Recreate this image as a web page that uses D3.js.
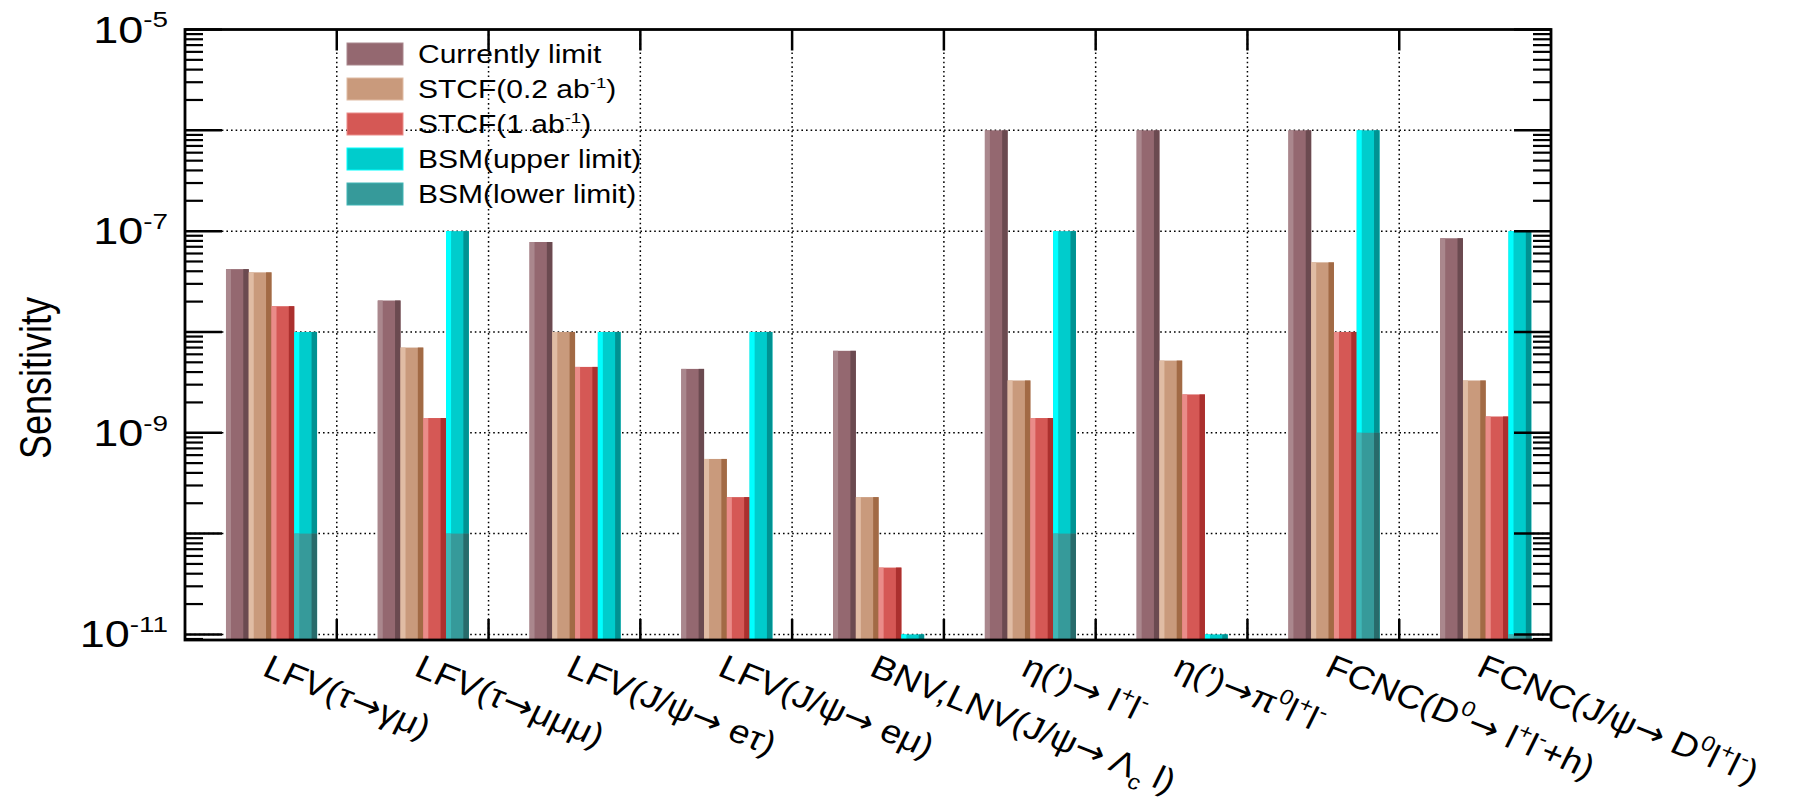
<!DOCTYPE html>
<html><head><meta charset="utf-8">
<script src="https://cdn.jsdelivr.net/npm/d3@7/dist/d3.min.js"></script>
<style>body{margin:0;background:#fff}svg{display:block}text{white-space:pre}</style>
</head><body>
<svg id="chart" width="1801" height="803"></svg>
<script>
// ---------- data ----------
const categories = [
  "LFV(τ→γμ)",
  "LFV(τ→μμμ)",
  "LFV(J/ψ→ eτ)",
  "LFV(J/ψ→ eμ)",
  "BNV,LNV(J/ψ→ Λ_{c} l)",
  "η(')→ l^{+}l^{-}",
  "η(')→π^{0}l^{+}l^{-}",
  "FCNC(D^{0}→ l^{+}l^{-}+h)",
  "FCNC(J/ψ→ D^{0}l^{+}l^{-})"
];
const currentLimit = [4.2e-8, 2.05e-8, 7.8e-8, 4.3e-9, 6.5e-9, 1e-6, 1e-6, 1e-6, 8.5e-8];
const stcf02       = [3.9e-8, 7.0e-9, 1.0e-8, 5.5e-10, 2.3e-10, 3.3e-9, 5.2e-9, 4.9e-8, 3.3e-9];
const stcf1        = [1.8e-8, 1.4e-9, 4.5e-9, 2.3e-10, 4.6e-11, 1.4e-9, 2.4e-9, 1.0e-8, 1.45e-9];
const bsmUpper     = [1e-8, 1e-7, 1e-8, 1e-8, 1e-11, 1e-7, 1e-11, 1e-6, 1e-7];
const bsmLower     = [1e-10, 1e-10, null, null, null, 1e-10, null, 1e-9, 1e-11];
const seriesNames  = ["Currently limit", "STCF(0.2 ab^{-1})", "STCF(1 ab^{-1})", "BSM(upper limit)", "BSM(lower limit)"];
const yTickValues  = [1e-5, 1e-7, 1e-9, 1e-11];
const yTickLabels  = ["10^{-5}", "10^{-7}", "10^{-9}", "10^{-11}"];
const yTitle = "Sensitivity";

// ---------- style ----------
const palette = [
  {main:"#946870", light:"#aa878d", dark:"#6b4a50"},
  {main:"#c99a7c", light:"#e0bca4", dark:"#a26a45"},
  {main:"#d55855", light:"#ea8c89", dark:"#ab302e"},
  {main:"#00cccc", light:"#00ffff", dark:"#009292"},
  {main:"#369a9a", light:"#3fb6b6", dark:"#286b6b"}
];
const FONT = "'Liberation Sans', Arial, Helvetica, sans-serif";
const SX = 1.25;           // horizontal glyph stretch seen in the reference
const X0 = 185, X1 = 1551, YT = 29.5, YB = 640;

const svg = d3.select("#chart");
svg.append("rect").attr("width",1801).attr("height",803).attr("fill","#fff");

const x = d3.scaleLinear().domain([0, categories.length]).range([X0, X1]);
const y = d3.scaleLog().domain([8.8e-12, 1e-5]).range([YB, YT]);

function rich(sel, str, fs, sc) {
  const parts = str.split(/(\^\{[^}]*\}|_\{[^}]*\}|→)/).filter(s => s.length);
  let off = 0;
  parts.forEach(p => {
    let t, target, size, fam = null;
    if (p.startsWith("^{")) { t = p.slice(2,-1); target = -0.42*fs; size = sc*fs; }
    else if (p.startsWith("_{")) { t = p.slice(2,-1); target = 0.28*fs; size = sc*fs; }
    else if (p === "→") { t = p; target = 0; size = fs; fam = "'DejaVu Sans', sans-serif"; }
    else { t = p; target = 0; size = fs; }
    const ts = sel.append("tspan").attr("dy", target - off).attr("font-size", size).text(t);
    if (fam) ts.attr("font-family", fam);
    off = target;
  });
}

// ---------- grid ----------
const grid = svg.append("g").attr("stroke","#000").attr("stroke-width",1.5).attr("stroke-dasharray","1.6,3");
grid.selectAll("line.h").data(d3.range(-11,-5).map(e => Math.pow(10,e))).join("line")
  .attr("x1",X0).attr("x2",X1).attr("y1",d=>y(d)).attr("y2",d=>y(d));
grid.selectAll("line.v").data(d3.range(1,categories.length)).join("line").attr("class","v")
  .attr("x1",d=>x(d)).attr("x2",d=>x(d)).attr("y1",YT).attr("y2",YB);

// ---------- bars ----------
const OFF = 0.27, BW = 0.15;
const seriesVals = [currentLimit, stcf02, stcf1, bsmUpper, bsmLower];
const slots = [0,1,2,3,3];
const recs = [];
seriesVals.forEach((vals, s) => vals.forEach((v, i) => { if (v != null) recs.push({i, s, v}); }));
const bw = x(BW) - x(0);
const bars = svg.append("g").selectAll("g").data(recs).join("g")
  .attr("transform", d => `translate(${x(d.i + OFF + slots[d.s]*BW)},0)`);
bars.append("rect").attr("x",0).attr("width",bw).attr("y",d=>y(d.v)).attr("height",d=>YB-y(d.v))
  .attr("fill",d=>palette[d.s].main);
bars.append("rect").attr("x",0).attr("width",bw*0.22).attr("y",d=>y(d.v)).attr("height",d=>YB-y(d.v))
  .attr("fill",d=>palette[d.s].light);
bars.append("rect").attr("x",bw*0.76).attr("width",bw*0.24).attr("y",d=>y(d.v)).attr("height",d=>YB-y(d.v))
  .attr("fill",d=>palette[d.s].dark);

// ---------- axes / frame ----------
const ax = svg.append("g").attr("stroke","#000").attr("fill","none");
const majors = d3.range(-11,-4).map(e=>Math.pow(10,e));
const minors = [];
d3.range(-12,-5).forEach(e => d3.range(2,10).forEach(m => { const v = m*Math.pow(10,e); if (v>=8.8e-12 && v<1e-5) minors.push(v); }));
ax.selectAll("line.lmaj").data(majors).join("line").attr("class","lmaj").attr("stroke-width",2.5)
  .attr("x1",X0).attr("x2",X0+37).attr("y1",d=>y(d)).attr("y2",d=>y(d));
ax.selectAll("line.lmin").data(minors).join("line").attr("class","lmin").attr("stroke-width",2.2)
  .attr("x1",X0).attr("x2",X0+18).attr("y1",d=>y(d)).attr("y2",d=>y(d));
ax.selectAll("line.rmaj").data(majors).join("line").attr("class","rmaj").attr("stroke-width",2.5)
  .attr("x1",X1).attr("x2",X1-37).attr("y1",d=>y(d)).attr("y2",d=>y(d));
ax.selectAll("line.rmin").data(minors).join("line").attr("class","rmin").attr("stroke-width",2.2)
  .attr("x1",X1).attr("x2",X1-18).attr("y1",d=>y(d)).attr("y2",d=>y(d));
const bounds = d3.range(1,categories.length);
ax.selectAll("line.bt").data(bounds).join("line").attr("class","bt").attr("stroke-width",2.5)
  .attr("x1",d=>x(d)).attr("x2",d=>x(d)).attr("y1",YB).attr("y2",YB-21);
ax.selectAll("line.tt").data(bounds).join("line").attr("class","tt").attr("stroke-width",2.5)
  .attr("x1",d=>x(d)).attr("x2",d=>x(d)).attr("y1",YT).attr("y2",YT+21);
ax.append("rect").attr("x",X0).attr("y",YT).attr("width",X1-X0).attr("height",YB-YT).attr("stroke-width",2.8);

// ---------- y tick labels ----------
svg.selectAll("g.ytl").data(yTickValues).join("g").attr("class","ytl")
  .attr("transform", d => `translate(168,${y(d)+13}) scale(${SX},1)`)
  .append("text").attr("text-anchor","end").attr("font-family",FONT).attr("font-size",36)
  .each(function(d,i){ rich(d3.select(this), yTickLabels[i], 36, 0.62); });

// ---------- y title ----------
svg.append("g").attr("transform",`translate(51,378) scale(${SX},1) rotate(-90)`)
  .append("text").attr("text-anchor","middle").attr("font-family",FONT).attr("font-size",36).text(yTitle);

// ---------- x labels ----------
const XSX = 1.12, XROT = 23.8;
svg.selectAll("g.xl").data(categories).join("g").attr("class","xl")
  .attr("transform",(d,i)=>`translate(${x(i+0.5)},675) scale(${XSX},1) rotate(${XROT})`)
  .append("text").attr("font-family",FONT).attr("font-size",33)
  .each(function(d){ rich(d3.select(this), d, 33, 0.65); });

// ---------- legend ----------
const leg = svg.append("g").selectAll("g").data(seriesNames).join("g")
  .attr("transform",(d,i)=>`translate(347,${54 + i*35})`);
leg.append("rect").attr("x",0).attr("y",-11).attr("width",56).attr("height",22)
  .attr("fill",(d,i)=>palette[i].main).attr("stroke",(d,i)=>palette[i].light).attr("stroke-width",1);
leg.append("g").attr("transform",`translate(71,9) scale(1.2,1)`)
  .append("text").attr("font-family",FONT).attr("font-size",25)
  .each(function(d){ rich(d3.select(this), d, 25, 0.62); });
</script>
</body></html>
